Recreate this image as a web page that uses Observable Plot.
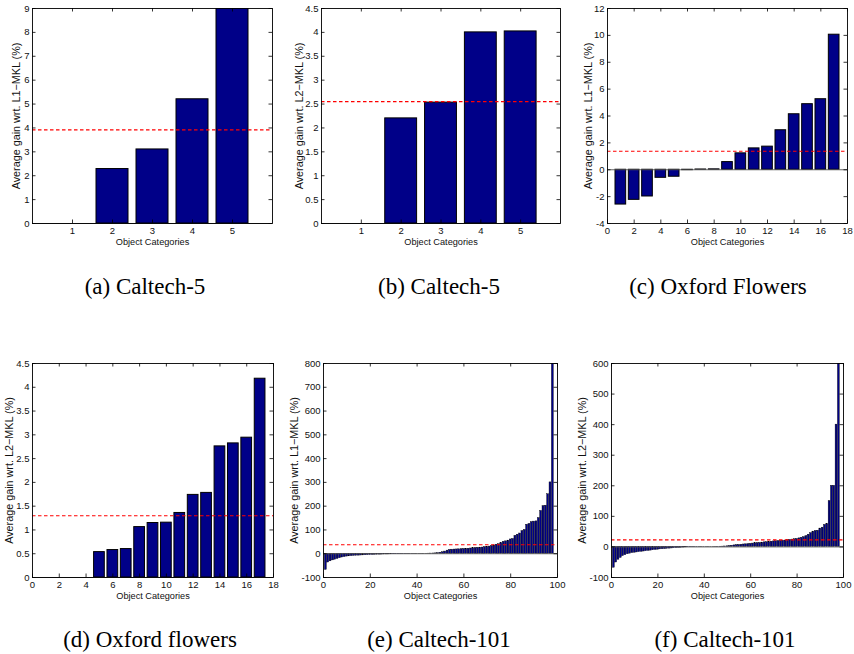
<!DOCTYPE html>
<html><head><meta charset="utf-8">
<script src="https://cdn.jsdelivr.net/npm/d3@7"></script>
<script src="https://cdn.jsdelivr.net/npm/@observablehq/plot@0.6"></script>
<style>
body{margin:0;background:#fff;}
#fig{position:relative;width:854px;height:654px;overflow:hidden;background:#fff;}
#fig svg{position:absolute;}
</style></head><body><div id="fig"></div>
<script>
// ---------- data ----------
const catsA = [1, 2, 3, 4, 5];
const gainA = [0, 2.28, 3.1, 5.2, 9.02];
const meanA = 3.92;

const catsB = [1, 2, 3, 4, 5];
const gainB = [0, 2.2, 2.53, 4.0, 4.02];
const meanB = 2.55;

const catsC = [1,2,3,4,5,6,7,8,9,10,11,12,13,14,15,16,17];
const gainC = [-2.59,-2.24,-1.99,-0.6,-0.52,-0.03,0.02,0.03,0.57,1.22,1.59,1.72,2.94,4.13,4.88,5.25,10.05];
const meanC = 1.38;

const catsD = [1,2,3,4,5,6,7,8,9,10,11,12,13,14,15,16,17];
const gainD = [0,0,0,0,0.534,0.577,0.598,1.06,1.146,1.153,1.357,1.737,1.779,2.757,2.82,2.94,4.18];
const meanD = 1.3;

const gainE = [-68,-37,-32,-28,-25,-22,-19,-16,-14,-12,
  -11,-10,-9,-8.5,-8,-7.5,-7,-6.5,-6,-5.5,
  -5,-4.5,-4,-3.8,-3.5,-3.2,-3,-2.8,-2.5,-2.2,
  -2,-1.8,-1.6,-1.4,-1.2,-1,-0.9,-0.8,-0.6,-0.5,
  -0.4,-0.3,-0.2,0.1,0.3,0.6,1,1.5,2.5,4,
  6,9,13,16,17,17.5,18,18.5,19,20,
  20.5,21,22,23,24,25,25.5,26,28,29,
  30,33,35,38,40,45,50,52,55,60,
  62,75,80,85,95,100,122,125,133,135,
  136,150,180,200,202,250,300,950];
const meanE = 38;

const gainF = [-68,-51,-42,-36,-30,-27,-24,-22,-20,-19,
  -18,-17,-16,-15,-14,-13,-12,-11,-10,-9,
  -8,-7.5,-7,-6,-5.5,-5,-4,-3.5,-3,-2.5,
  -2,-1.5,-1.2,-1,-0.8,-0.6,-0.5,-0.4,-0.3,-0.2,
  -0.1,0.1,0.15,0.2,0.4,0.6,0.8,1,1.5,2,
  3,4,5,6,6.5,7,8,8.5,9,10,
  11,12,12.5,13,14,15,15.5,16,17,18,
  18.5,19,20,20.5,21,22,23,24,25,26,
  28,30,32,35,40,45,50,52,53,60,
  63,72,75,150,200,200,400,700];
const meanF = 23;

const ticksX5 = [1, 2, 3, 4, 5];
const ticksX18 = [0, 2, 4, 6, 8, 10, 12, 14, 16, 18];
const ticksX100 = [0, 20, 40, 60, 80, 100];
const ticksYA = [0, 1, 2, 3, 4, 5, 6, 7, 8, 9];
const ticksYB = [0, 0.5, 1, 1.5, 2, 2.5, 3, 3.5, 4, 4.5];
const ticksYC = [-4, -2, 0, 2, 4, 6, 8, 10, 12];
const ticksYD = [0, 0.5, 1, 1.5, 2, 2.5, 3, 3.5, 4, 4.5];
const ticksYE = [-100, 0, 100, 200, 300, 400, 500, 600, 700, 800];
const ticksYF = [-100, 0, 100, 200, 300, 400, 500, 600];

const xLabel = "Object Categories";
const yLabelL1 = "Average gain wrt. L1\u2212MKL (%)";
const yLabelL2 = "Average gain wrt. L2\u2212MKL (%)";
const captions = ["(a) Caltech-5", "(b) Caltech-5", "(c) Oxford Flowers",
                  "(d) Oxford flowers", "(e) Caltech-101", "(f) Caltech-101"];

// ---------- drawing ----------
const FONT = '"Liberation Sans", Arial, Helvetica, sans-serif';
const fig = document.getElementById("fig");
const fmt = d => String(d);

function panel(cfg) {
  const {left, top, width, height, m, xDomain, yDomain, xTicks, yTicks,
         cats, vals, mean, ylabel, ylabelDx, barStroke} = cfg;
  const [mt, mr, mb, ml] = m;
  const data = vals.map((v, i) => ({x: cats ? cats[i] : i + 1, v}));
  const fw = width - ml - mr, fh = height - mt - mb;
  const tl = 3.5;
  const svg = Plot.plot({
    width, height,
    marginTop: mt, marginRight: mr, marginBottom: mb, marginLeft: ml,
    style: {fontFamily: FONT, fontSize: "9.5px", color: "#111", background: "transparent", overflow: "visible"},
    x: {domain: xDomain},
    y: {domain: yDomain},
    marks: [
      Plot.rect(data, {x1: d => d.x - 0.4, x2: d => d.x + 0.4, y1: d => 0, y2: "v",
        fill: "#000088", stroke: "#000", strokeWidth: barStroke, clip: true}),
      Plot.ruleY([0], {stroke: "#555", strokeWidth: 0.9}),
      Plot.ruleY([mean], {stroke: "#ff0000", strokeWidth: 1.1, strokeDasharray: "3.5,2.5"}),
      Plot.frame({stroke: "#000", strokeWidth: 0.9}),
      Plot.tickY(yTicks, {y: d => d, insetRight: fw - tl, stroke: "#000", strokeWidth: 0.8}),
      Plot.tickY(yTicks, {y: d => d, insetLeft: fw - tl, stroke: "#000", strokeWidth: 0.8}),
      Plot.tickX(xTicks, {x: d => d, insetTop: fh - tl, stroke: "#000", strokeWidth: 0.8}),
      Plot.tickX(xTicks, {x: d => d, insetBottom: fh - tl, stroke: "#000", strokeWidth: 0.8}),
      Plot.axisX({ticks: xTicks, tickSize: 0, tickPadding: 4, tickFormat: fmt, label: null}),
      Plot.axisY({ticks: yTicks, tickSize: 0, tickPadding: 3, tickFormat: fmt, label: null}),
      Plot.text([xLabel], {text: d => d, frameAnchor: "bottom", dy: 21, fontSize: 9.2, textAnchor: "middle"}),
      Plot.text([ylabel], {text: d => d, frameAnchor: "left", dx: -ylabelDx, rotate: -90, fontSize: 10.8, textAnchor: "middle", lineAnchor: "middle"})
    ]
  });
  svg.style.left = left + "px";
  svg.style.top = top + "px";
  fig.appendChild(svg);
}

panel({left: 0, top: 0, width: 285, height: 262, m: [8, 13, 39, 32],
  xDomain: [0, 6], yDomain: [0, 9], xTicks: ticksX5, yTicks: ticksYA,
  cats: catsA, vals: gainA, mean: meanA, ylabel: yLabelL1, ylabelDx: 16, barStroke: 1});
panel({left: 285, top: 0, width: 285, height: 262, m: [8, 10, 39, 36],
  xDomain: [0, 6], yDomain: [0, 4.5], xTicks: ticksX5, yTicks: ticksYB,
  cats: catsB, vals: gainB, mean: meanB, ylabel: yLabelL2, ylabelDx: 22, barStroke: 1});
panel({left: 570, top: 0, width: 284, height: 262, m: [8, 7, 39, 37],
  xDomain: [0, 18], yDomain: [-4, 12], xTicks: ticksX18, yTicks: ticksYC,
  cats: catsC, vals: gainC, mean: meanC, ylabel: yLabelL1, ylabelDx: 19, barStroke: 1});
panel({left: 0, top: 350, width: 285, height: 262, m: [13, 12, 35, 32],
  xDomain: [0, 18], yDomain: [0, 4.5], xTicks: ticksX18, yTicks: ticksYD,
  cats: catsD, vals: gainD, mean: meanD, ylabel: yLabelL2, ylabelDx: 23, barStroke: 1});
panel({left: 285, top: 350, width: 285, height: 262, m: [13, 13, 35, 38],
  xDomain: [0, 100], yDomain: [-100, 800], xTicks: ticksX100, yTicks: ticksYE,
  cats: null, vals: gainE, mean: meanE, ylabel: yLabelL1, ylabelDx: 29, barStroke: 0.4});
panel({left: 570, top: 350, width: 284, height: 262, m: [13, 11, 35, 41],
  xDomain: [0, 100], yDomain: [-100, 600], xTicks: ticksX100, yTicks: ticksYF,
  cats: null, vals: gainF, mean: meanF, ylabel: yLabelL2, ylabelDx: 29, barStroke: 0.4});

// captions
const capPos = [[145, 294], [439, 294], [718, 294], [150, 647], [439, 647], [725, 647]];
const ns = "http://www.w3.org/2000/svg";
const cap = document.createElementNS(ns, "svg");
cap.setAttribute("width", 854); cap.setAttribute("height", 654);
cap.style.left = "0px"; cap.style.top = "0px"; cap.style.pointerEvents = "none";
captions.forEach((t, i) => {
  const el = document.createElementNS(ns, "text");
  el.setAttribute("x", capPos[i][0]); el.setAttribute("y", capPos[i][1]);
  el.setAttribute("text-anchor", "middle");
  el.setAttribute("font-family", '"Liberation Serif", "Times New Roman", Times, serif');
  el.setAttribute("font-size", "23");
  el.setAttribute("fill", "#000");
  el.textContent = t;
  cap.appendChild(el);
});
fig.appendChild(cap);
</script>
</body></html>
